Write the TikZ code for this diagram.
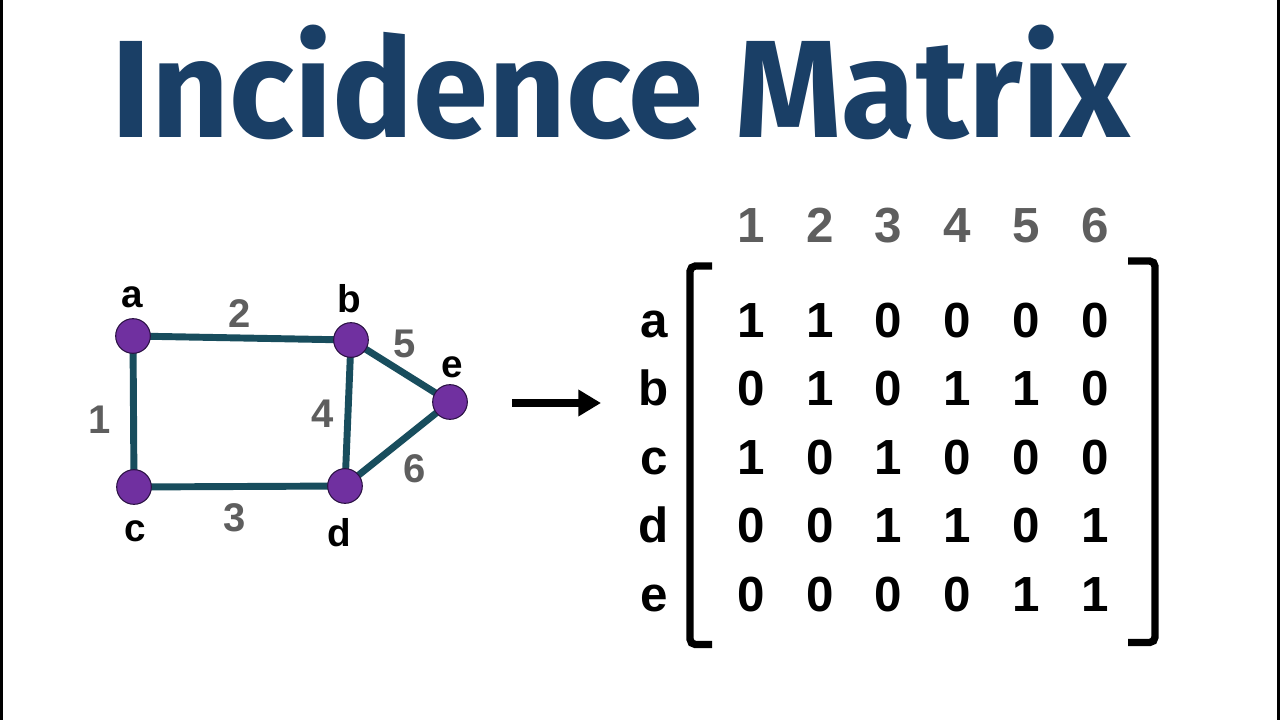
\documentclass[tikz,border=0pt]{standalone}
\usepackage{fontspec}
\setmainfont{Liberation Sans}
\newfontfamily\titlefont{Fira Sans}
\usetikzlibrary{arrows.meta}
\definecolor{titleblue}{HTML}{1A3F66}
\definecolor{edgeteal}{HTML}{184D5D}
\definecolor{vpurple}{HTML}{7030A0}
\definecolor{vline}{HTML}{2B1244}
\definecolor{lblgray}{HTML}{5E5E5E}
\tikzset{
  vertex/.style={circle, fill=vpurple, draw=vline, line width=0.8pt, minimum size=26pt, inner sep=0pt},
  edge/.style={draw=edgeteal, line width=5.2pt},
  vlabel/.style={anchor=base, inner sep=0pt, font=\fontsize{29}{33}\selectfont\bfseries},
  elabel/.style={anchor=base, inner sep=0pt, text=lblgray, font=\fontsize{30}{34}\selectfont\bfseries},
  entry/.style={anchor=base, inner sep=0pt, font=\fontsize{37}{42}\selectfont\bfseries},
  colhead/.style={entry, text=lblgray},
  bracket/.style={draw=black, line width=5.5pt, rounded corners=4pt},
  bigarrow/.style={draw=black, line width=5.5pt, -{Triangle[length=17pt, width=19pt]}},
}
\begin{document}
\begin{tikzpicture}[x=0.75pt, y=-0.75pt]
\useasboundingbox (0,0) rectangle (1280,720);
\fill[white] (0,0) rectangle (1280,720);
\fill[black] (0,0) rectangle (3,720);
\fill[black] (1277,0) rectangle (1280,720);
% title
\node[anchor=base, inner sep=0pt, text=titleblue] (title) at (621,138)
  {\resizebox{763.5pt}{\height}{\titlefont\fontsize{104}{120}\selectfont\bfseries Incidence Matrix}};
% graph
\coordinate (pa) at (133,336);
\coordinate (pb) at (351,340);
\coordinate (pc) at (134,487);
\coordinate (pd) at (345,486);
\coordinate (pe) at (450,402);
\path[edge] (pa) -- (pb) (pa) -- (pc) (pb) -- (pd) (pb) -- (pe) (pc) -- (pd) (pd) -- (pe);
\node[vertex] (a) at (pa) {};
\node[vertex] (b) at (pb) {};
\node[vertex] (c) at (pc) {};
\node[vertex] (d) at (pd) {};
\node[vertex] (e) at (pe) {};
\node[vlabel] (la) at (132,307) {a};
\node[vlabel] (lb) at (349,312) {b};
\node[vlabel] (lc) at (135,541) {c};
\node[vlabel] (ld) at (339,546) {d};
\node[vlabel] (le) at (452,377) {e};
\node[elabel] (e1) at (100,433) {1};
\node[elabel] (e2) at (240,327) {2};
\node[elabel] (e3) at (235,531) {3};
\node[elabel] (e4) at (323,427) {4};
\node[elabel] (e5) at (405,357) {5};
\node[elabel] (e6) at (415,482) {6};
% arrow
\coordinate (arrS) at (512,403);
\coordinate (arrE) at (601,403);
\draw[bigarrow] (arrS) -- (arrE);
% column headers
\foreach \j/\x in {1/751,2/820,3/888,4/957,5/1026,6/1095}{
  \node[colhead] (h\j) at (\x,243) {\j};
}
% row labels and entries
\foreach \r/\y/\vals in {a/337/{1,1,0,0,0,0}, b/405.5/{0,1,0,1,1,0}, c/474/{1,0,1,0,0,0}, d/542.5/{0,0,1,1,0,1}, e/611/{0,0,0,0,1,1}}{
  \node[entry] (row\r) at (654,\y) {\r};
  \foreach \v [count=\j] in \vals {
    \pgfmathsetmacro{\xx}{751+68.8*(\j-1)}
    \node[entry] (m\r\j) at (\xx,\y) {\v};
  }
}
% brackets
\coordinate (lb1) at (712,266);
\coordinate (lb2) at (690,266);
\coordinate (lb3) at (690,644.5);
\coordinate (lb4) at (712,644.5);
\draw[bracket] (lb1) -- (lb2) -- (lb3) -- (lb4);
\coordinate (rb1) at (1128,261);
\coordinate (rb2) at (1155,261);
\coordinate (rb3) at (1155,642.5);
\coordinate (rb4) at (1128,642.5);
\draw[bracket] (rb1) -- (rb2) -- (rb3) -- (rb4);
\end{tikzpicture}
\end{document}
